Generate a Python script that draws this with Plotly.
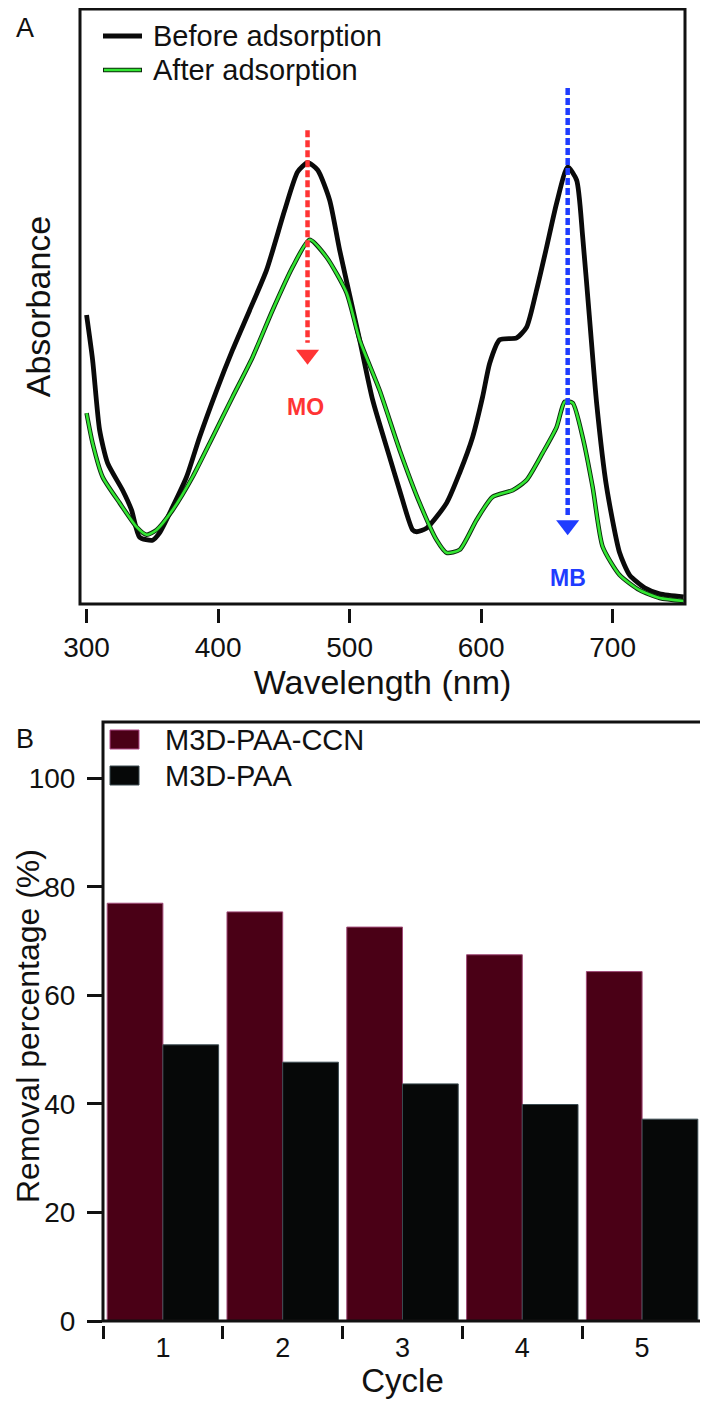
import plotly.graph_objects as go

# ---------------- Panel A data (UV-vis spectra) ----------------
wl_before = [300, 304.6, 309.9, 316.0, 327.4, 334.2, 340.3, 350.2, 355.5, 365.4, 376.0, 385.9,
             398.9, 411.0, 424.0, 436.9, 450.6, 460.5, 468.1, 475.7, 484.8, 492.4, 507.6, 517.5,
             530.4, 538.0, 547.9, 551.0, 558.6, 573.8, 583.7, 593.5, 601.1, 606.5, 614.1, 627.0,
             634.6, 642.2, 649.8, 657.4, 665.8, 672.6, 677.2, 682.5, 687.8, 695.4, 705.3, 712.9,
             724.3, 735.7, 754.0]
abs_before = [0.480, 0.405, 0.289, 0.234, 0.189, 0.156, 0.111, 0.106, 0.118, 0.161, 0.211, 0.277,
              0.355, 0.422, 0.488, 0.555, 0.654, 0.718, 0.733, 0.721, 0.671, 0.588, 0.439, 0.339,
              0.244, 0.189, 0.123, 0.120, 0.126, 0.168, 0.218, 0.277, 0.344, 0.400, 0.439, 0.442,
              0.460, 0.522, 0.593, 0.666, 0.726, 0.704, 0.610, 0.472, 0.334, 0.194, 0.085, 0.048,
              0.027, 0.017, 0.012]

wl_after = [300, 304.6, 312.2, 325.1, 338.0, 345.6, 353.2, 365.4, 380.6, 395.8, 411.0, 426.2,
            441.4, 456.7, 469.6, 482.5, 497.7, 507.6, 522.8, 538.0, 553.2, 566.2, 573.8, 583.7,
            596.6, 608.7, 624.0, 634.6, 646.8, 657.4, 663.5, 669.6, 677.2, 684.8, 692.4, 705.3,
            720.5, 735.7, 754.0]
abs_after = [0.317, 0.267, 0.211, 0.168, 0.128, 0.115, 0.123, 0.156, 0.211, 0.277, 0.344, 0.410,
             0.488, 0.560, 0.605, 0.576, 0.517, 0.439, 0.355, 0.256, 0.168, 0.106, 0.085, 0.090,
             0.140, 0.178, 0.189, 0.206, 0.251, 0.294, 0.336, 0.334, 0.277, 0.194, 0.095, 0.048,
             0.023, 0.010, 0.005]

wl_ticks = [300, 400, 500, 600, 700]
spectra_names = ["Before adsorption", "After adsorption"]

# arrows (wavelength, start absorbance, end absorbance, head absorbance, label absorbance)
mo_arrow = [468.0, 0.787, 0.434, 0.414, 0.327]
mb_arrow = [665.8, 0.857, 0.148, 0.131, 0.043]

# ---------------- Panel B data (removal percentage) ----------------
cycles = ["1", "2", "3", "4", "5"]
removal_ccn = [77.0, 75.4, 72.6, 67.5, 64.4]
removal_paa = [50.9, 47.7, 43.7, 39.9, 37.2]
bar_names = ["M3D-PAA-CCN", "M3D-PAA"]
pct_ticks = [0, 20, 40, 60, 80, 100]

# page is 708x1407; the HTML body adds an 8px margin
OFF = 8
W, H = 700, 1391
FONT = "Liberation Sans, Arial, Helvetica, sans-serif"
MAROON = "#4a0016"
BLACK = "#060808"
GREEN = "#33e633"
RED = "#ff3434"
BLUE = "#1f3cff"


def px(x):
    return (x - OFF) / W


def py(y):
    return 1 - (y - OFF) / H


fig = go.Figure()

# Panel A lines
fig.add_trace(go.Scatter(x=wl_before, y=abs_before, mode="lines", name=spectra_names[0],
                         line=dict(color="#0a0a0a", width=4.8, shape="spline", smoothing=0.6),
                         xaxis="x", yaxis="y", showlegend=False))
fig.add_trace(go.Scatter(x=wl_after, y=abs_after, mode="lines", name=spectra_names[1] + " edge",
                         line=dict(color="#0d2a0d", width=4.5, shape="spline", smoothing=0.6),
                         xaxis="x", yaxis="y", showlegend=False, hoverinfo="skip"))
fig.add_trace(go.Scatter(x=wl_after, y=abs_after, mode="lines", name=spectra_names[1],
                         line=dict(color=GREEN, width=2.6, shape="spline", smoothing=0.6),
                         xaxis="x", yaxis="y", showlegend=False))

# dashed arrows
for arr, col in [(mo_arrow, RED), (mb_arrow, BLUE)]:
    fig.add_trace(go.Scatter(x=[arr[0], arr[0]], y=[arr[1], arr[2]], mode="lines",
                             line=dict(color=col, width=4.5, dash="7px,3px"),
                             xaxis="x", yaxis="y", showlegend=False, hoverinfo="skip"))
    fig.add_trace(go.Scatter(x=[arr[0]], y=[arr[3]], mode="markers",
                             marker=dict(symbol="triangle-down", size=20, color=col,
                                         line=dict(width=0)),
                             xaxis="x", yaxis="y", showlegend=False, hoverinfo="skip"))

# Panel B bars
fig.add_trace(go.Bar(x=cycles, y=removal_ccn, name=bar_names[0], xaxis="x2", yaxis="y2",
                     marker=dict(color=MAROON, line=dict(color="#a04a78", width=1)),
                     showlegend=False))
fig.add_trace(go.Bar(x=cycles, y=removal_paa, name=bar_names[1], xaxis="x2", yaxis="y2",
                     marker=dict(color=BLACK, line=dict(color="#3a4a50", width=1)),
                     showlegend=False))

# Domains (page pixel -> paper); panel A top is clipped at the page margin
A_BOTTOM, A_TOP = 604, 9
xA = [px(80), px(685)]
yA = [py(A_BOTTOM), py(A_TOP)]
yA_range = [0, (A_BOTTOM - A_TOP) / 602]
xB = [px(103), px(702)]
yB = [py(1321), py(722)]

tickfont = dict(family=FONT, size=28, color="#111")
titlefont = dict(family=FONT, size=34, color="#111")

fig.update_layout(
    template="none",
    width=W, height=H,
    margin=dict(l=0, r=0, t=0, b=0),
    paper_bgcolor="white", plot_bgcolor="white",
    font=dict(family=FONT, color="#111"),
    barmode="group", bargap=0.07, bargroupgap=0,
    xaxis=dict(domain=xA, range=[295, 755], anchor="free", position=py(608), automargin=False,
               showline=False, showgrid=False, zeroline=False,
               ticks="outside", ticklen=14, tickwidth=3, tickcolor="#111",
               tickvals=wl_ticks, tickfont=tickfont,
               title=dict(text="Wavelength (nm)", font=titlefont, standoff=2)),
    yaxis=dict(domain=yA, range=yA_range, anchor="x", automargin=False,
               showline=False, showgrid=False, zeroline=False, showticklabels=False, ticks="",
               title=dict(text="Absorbance", font=titlefont, standoff=18)),
    xaxis2=dict(domain=xB, type="category", range=[-0.5, 4.5], anchor="free", position=py(1325),
                automargin=False, showline=False, showgrid=False, zeroline=False,
                ticks="outside", tickson="boundaries", ticklen=13, tickwidth=3, tickcolor="#111",
                tickfont=dict(family=FONT, size=27, color="#111"), ticklabelstandoff=4,
                title=dict(text="Cycle", font=dict(family=FONT, size=33, color="#111"),
                           standoff=3)),
    yaxis2=dict(domain=yB, range=[0, 110.4], anchor="x2", automargin=False,
                showline=False, showgrid=False, zeroline=False,
                ticks="outside", ticklen=15, tickwidth=3, tickcolor="#111",
                tickvals=pct_ticks, tickfont=tickfont, ticklabelstandoff=6),
)

shapes = []
# frames
for xr, yr in [("x", "y"), ("x2", "y2")]:
    shapes.append(dict(type="rect", xref=xr + " domain", yref=yr + " domain",
                       x0=0, x1=1, y0=0, y1=1, line=dict(color="#111", width=3), layer="above"))
# legend A samples
shapes.append(dict(type="line", xref="paper", yref="paper", x0=px(103), x1=px(142),
                   y0=py(36), y1=py(36), line=dict(color="#0a0a0a", width=5)))
shapes.append(dict(type="line", xref="paper", yref="paper", x0=px(103), x1=px(142),
                   y0=py(70), y1=py(70), line=dict(color="#0d2a0d", width=4.5)))
shapes.append(dict(type="line", xref="paper", yref="paper", x0=px(104), x1=px(141),
                   y0=py(70), y1=py(70), line=dict(color=GREEN, width=2.6)))
# legend B swatches
shapes.append(dict(type="rect", xref="paper", yref="paper", x0=px(110), x1=px(139),
                   y0=py(749), y1=py(730), fillcolor=MAROON, line=dict(color="#b04a88", width=1)))
shapes.append(dict(type="rect", xref="paper", yref="paper", x0=px(110), x1=px(139),
                   y0=py(785), y1=py(766), fillcolor=BLACK, line=dict(color="#3a4a50", width=1)))
fig.update_layout(shapes=shapes)

ann = []
legfont = dict(family=FONT, size=29, color="#111")
ann.append(dict(x=px(151), y=py(36), xref="paper", yref="paper", text=spectra_names[0],
                showarrow=False, xanchor="left", yanchor="middle", font=legfont))
ann.append(dict(x=px(151), y=py(70), xref="paper", yref="paper", text=spectra_names[1],
                showarrow=False, xanchor="left", yanchor="middle", font=legfont))
ann.append(dict(x=px(163), y=py(740), xref="paper", yref="paper", text=bar_names[0],
                showarrow=False, xanchor="left", yanchor="middle", font=legfont))
ann.append(dict(x=px(163), y=py(776), xref="paper", yref="paper", text=bar_names[1],
                showarrow=False, xanchor="left", yanchor="middle", font=legfont))
# y-axis title of panel B
ann.append(dict(x=px(28), y=py(1026), xref="paper", yref="paper",
                text="Removal percentage (%)", textangle=-90, showarrow=False,
                xanchor="center", yanchor="middle", font=dict(family=FONT, size=32, color="#111")))
# panel letters
ann.append(dict(x=px(25), y=py(28), xref="paper", yref="paper", text="A", showarrow=False,
                xanchor="center", yanchor="middle", font=dict(family=FONT, size=27, color="#111")))
ann.append(dict(x=px(25), y=py(739), xref="paper", yref="paper", text="B", showarrow=False,
                xanchor="center", yanchor="middle", font=dict(family=FONT, size=27, color="#111")))
# arrow labels
ann.append(dict(x=mo_arrow[0] - 1.5, y=mo_arrow[4], xref="x", yref="y", text="<b>MO</b>",
                showarrow=False, font=dict(family=FONT, size=23, color=RED)))
ann.append(dict(x=mb_arrow[0], y=mb_arrow[4], xref="x", yref="y", text="<b>MB</b>",
                showarrow=False, font=dict(family=FONT, size=23, color=BLUE)))
fig.update_layout(annotations=ann)

fig.write_html("out.html")
